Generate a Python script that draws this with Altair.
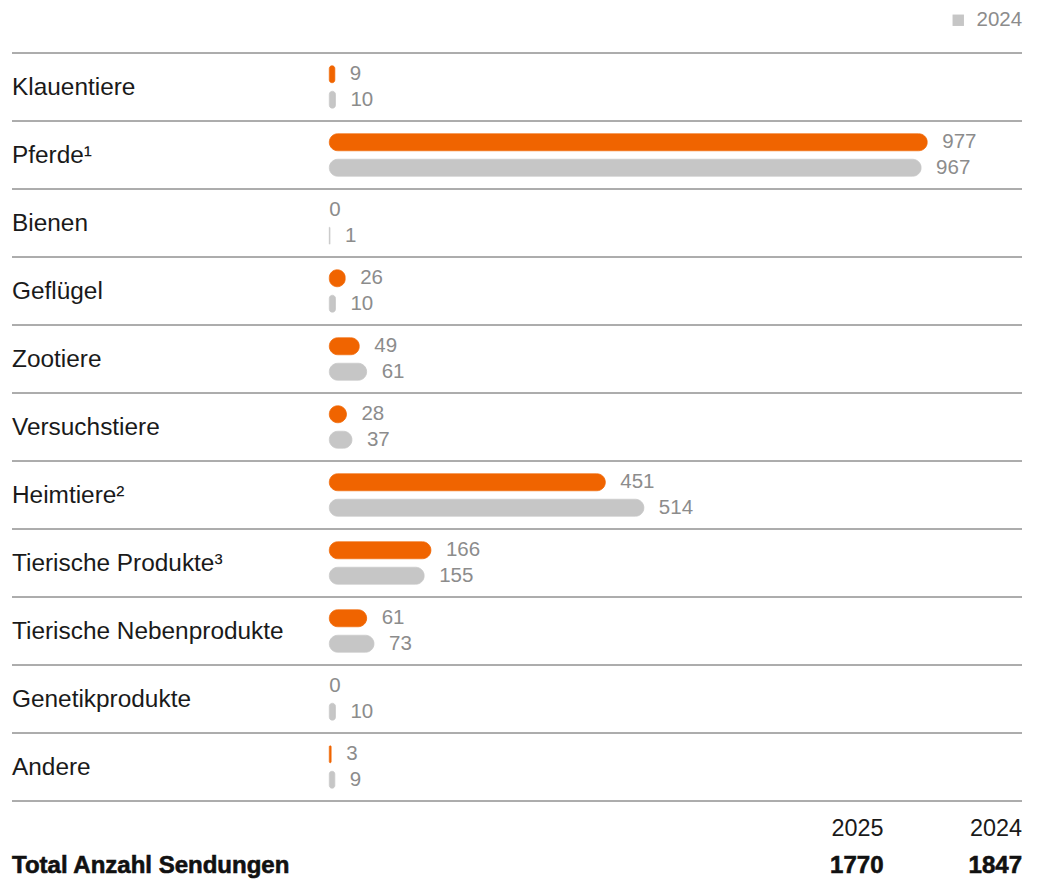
import altair as alt
import pandas as pd

categories = ["Klauentiere", "Pferde¹", "Bienen", "Geflügel", "Zootiere", "Versuchstiere",
              "Heimtiere²", "Tierische Produkte³", "Tierische Nebenprodukte",
              "Genetikprodukte", "Andere"]
values_2025 = [9, 977, 0, 26, 49, 28, 451, 166, 61, 0, 3]
values_2024 = [10, 967, 1, 10, 61, 37, 514, 155, 73, 10, 9]
years = ["2025", "2024"]
totals = [1770, 1847]
total_label = "Total Anzahl Sendungen"

ORANGE = "#f06400"
GRAY = "#c6c6c6"
FONT = "Liberation Sans"
VAL_COLOR = "#8c8c8c"
TXT_COLOR = "#1a1a1a"
LINE_COLOR = "#5a5a5a"

rows = []
for c, a, b in zip(categories, values_2025, values_2024):
    rows.append({"cat": c, "year": "2025", "value": a})
    rows.append({"cat": c, "year": "2024", "value": b})
df = pd.DataFrame(rows)
cats_df = pd.DataFrame({"cat": categories})
last_df = pd.DataFrame({"cat": [categories[-1]]})
foot_df = pd.DataFrame({"year": years, "total": totals})
label_df = pd.DataFrame({"label": [total_label]})

y_scale = alt.Scale(domain=categories, range=[45, 793], paddingInner=0, paddingOuter=0)
x_scale = alt.Scale(domain=[0, 1000], range=[321.3, 933.3])


def y_enc(**kw):
    return alt.Y("cat:N", sort=categories, scale=y_scale, axis=None, **kw)


yoff = alt.YOffset("year:N", sort=years,
                   scale=alt.Scale(domain=years, paddingInner=0, paddingOuter=0.333))

color = alt.Color(
    "year:N",
    scale=alt.Scale(domain=years, range=[ORANGE, GRAY]),
    legend=alt.Legend(values=["2024"], orient="none", legendX=940, legendY=2, title=None,
                      symbolType="square", symbolSize=130, symbolStrokeWidth=0,
                      labelFont=FONT, labelFontSize=20.5, labelColor=VAL_COLOR,
                      labelOffset=8, padding=0),
)
stroke = alt.Stroke("year:N", scale=alt.Scale(domain=years, range=[ORANGE, GRAY]), legend=None)

rules_top = alt.Chart(cats_df).mark_rule(color=LINE_COLOR, strokeWidth=1).encode(
    y=y_enc(bandPosition=0), x=alt.value(4), x2=alt.value(1014)
)
rules_bottom = alt.Chart(last_df).mark_rule(color=LINE_COLOR, strokeWidth=1).encode(
    y=y_enc(bandPosition=1), x=alt.value(4), x2=alt.value(1014)
)

bars = alt.Chart(df).transform_filter("datum.value > 0").mark_bar(
    height=17, cornerRadius=8.5, strokeWidth=0.8
).encode(
    x=alt.X("value:Q", scale=x_scale, axis=None),
    y=y_enc(),
    yOffset=yoff,
    color=color,
    stroke=stroke,
)

val_text = alt.Chart(df).transform_filter("datum.value > 0").mark_text(
    align="left", baseline="middle", dx=15, font=FONT, fontSize=20.5, color=VAL_COLOR
).encode(
    x=alt.X("value:Q", scale=x_scale, axis=None),
    y=y_enc(),
    yOffset=yoff,
    text=alt.Text("value:Q", format="d"),
)

zero_text = alt.Chart(df).transform_filter("datum.value == 0").mark_text(
    align="left", baseline="middle", dx=0, font=FONT, fontSize=20.5, color=VAL_COLOR
).encode(
    x=alt.X("value:Q", scale=x_scale, axis=None),
    y=y_enc(),
    yOffset=yoff,
    text=alt.Text("value:Q", format="d"),
)

cat_text = alt.Chart(cats_df).mark_text(
    align="left", baseline="middle", dy=1, font=FONT, fontSize=24.4, color=TXT_COLOR
).encode(
    x=alt.value(4),
    y=y_enc(),
    text="cat:N",
)

footer_layers = []
for yr, xpos in zip(years, [875.5, 1014]):
    footer_layers.append(
        alt.Chart(foot_df).transform_filter(alt.datum.year == yr).mark_text(
            align="right", baseline="middle", font=FONT, fontSize=23.4, color=TXT_COLOR
        ).encode(x=alt.value(xpos), y=alt.value(821), text="year:N")
    )
    footer_layers.append(
        alt.Chart(foot_df).transform_filter(alt.datum.year == yr).mark_text(
            align="right", baseline="alphabetic", font=FONT, fontSize=24,
            fontWeight="bold", color="#111111", stroke="#111111", strokeWidth=0.6
        ).encode(x=alt.value(xpos), y=alt.value(865), text=alt.Text("total:Q", format="d"))
    )

total_text = alt.Chart(label_df).mark_text(
    align="left", baseline="alphabetic", font=FONT, fontSize=24, fontWeight="bold",
    color="#111111", stroke="#111111", strokeWidth=0.6
).encode(x=alt.value(4), y=alt.value(865), text="label:N")

chart = alt.layer(
    rules_top, rules_bottom, bars, val_text, zero_text, cat_text, total_text, *footer_layers
).properties(
    width=1024, height=880, autosize="none", padding=0
).configure_view(stroke=None)

chart.save("out.html", embed_options={"renderer": "svg", "actions": False})
